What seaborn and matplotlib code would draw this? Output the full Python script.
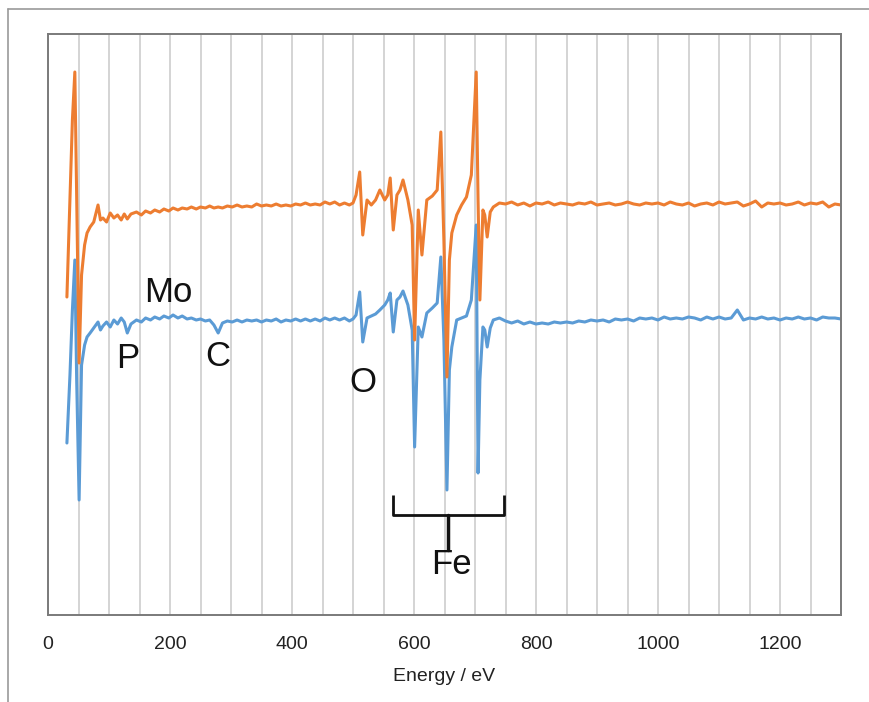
import matplotlib
matplotlib.use("Agg")
import pandas as pd
import matplotlib.pyplot as plt
import seaborn as sns

# Energy grid (eV) shared by both spectra
energy = [31, 36, 40, 44, 47, 51, 55, 60, 64, 69, 75, 82, 86, 90, 96, 102, 108, 114, 120, 125, 130,
          136, 145, 153, 160, 168, 175, 183, 190, 198, 205, 213, 220, 228, 235, 243, 250, 258, 265, 272, 279,
          286, 294, 302, 310, 318, 326, 334, 342, 350, 358, 366, 374, 382, 390, 398, 406, 414, 422, 430,
          438, 446, 454, 462, 470, 478, 486, 494, 500,
          505, 511, 516, 523, 530, 537, 544, 552, 557, 561, 566, 572, 577, 582, 590, 597, 601, 607, 613, 621,
          630, 638, 644, 649, 654, 658, 662, 670, 678, 686, 694, 702, 705, 708, 713, 716, 720, 725, 730, 740,
          750, 760, 770, 780, 790, 800, 810, 820, 830, 840, 850, 860, 870, 880, 890, 900, 910, 920, 930, 940,
          950, 960, 970, 980, 990, 1000, 1010, 1020, 1030, 1040, 1050, 1060, 1070, 1080, 1090, 1100, 1110,
          1120, 1130, 1140, 1150, 1160, 1170, 1180, 1190, 1200, 1210, 1220, 1230, 1240, 1250, 1260, 1270,
          1280, 1290, 1300]

# Upper (orange) spectrum, arbitrary units
orange_counts = [318, 415, 495, 543, 415, 252, 340, 370, 382, 388, 393, 410, 395, 397, 393, 402, 397, 400, 395, 401, 396,
                 401, 403, 400, 404, 402, 405, 403, 406, 404, 407, 405, 407, 406, 408, 406, 408, 407, 409, 407, 408,
                 407, 409, 408, 410, 408, 409, 408, 411, 409, 410, 409, 411, 409, 410, 409, 411, 410, 412, 410,
                 411, 410, 413, 411, 413, 410, 412, 410, 412,
                 420, 443, 380, 415, 410, 415, 425, 415, 420, 437, 385, 420, 425, 435, 415, 390, 275, 405, 360, 415,
                 419, 425, 483, 375, 238, 355, 382, 400, 410, 418, 440, 543, 415, 315, 405, 400, 378, 403, 408, 412,
                 411, 413, 410, 412, 409, 412, 411, 413, 410, 412, 411, 410, 412, 411, 413, 410, 411, 412, 410, 411,
                 413, 411, 410, 412, 411, 412, 410, 413, 411, 410, 412, 409, 411, 412, 410, 413, 411,
                 412, 413, 409, 411, 414, 408, 412, 411, 412, 410, 411, 413, 410, 412, 411, 413,
                 408, 411, 410]

# Lower (blue) spectrum, arbitrary units
blue_counts = [172, 240, 305, 355, 235, 115, 250, 270, 278, 282, 287, 293, 285, 289, 293, 288, 295, 291, 297, 293, 282,
               291, 295, 293, 297, 295, 298, 296, 299, 297, 300, 297, 299, 296, 297, 295, 296, 294, 295, 290, 282,
               292, 294, 293, 295, 293, 295, 294, 295, 293, 295, 294, 296, 293, 295, 294, 296, 294, 296, 294,
               296, 294, 297, 295, 297, 295, 297, 294, 296,
               300, 323, 273, 297, 299, 301, 305, 310, 315, 322, 283, 315, 318, 324, 310, 285, 168, 288, 278, 302,
               307, 312, 358, 275, 125, 245, 268, 295, 297, 299, 315, 390, 142, 235, 288, 285, 268, 287, 295, 297,
               294, 292, 294, 291, 293, 291, 292, 291, 293, 292, 293, 292, 294, 293, 295, 294, 295, 293, 296, 295,
               296, 294, 297, 296, 297, 295, 298, 296, 297, 296, 298, 297, 295, 298, 296, 298, 296,
               297, 305, 295, 297, 296, 298, 296, 297, 295, 297, 296, 298, 296, 297, 295, 298,
               297, 297, 296]

x_ticks = [0, 200, 400, 600, 800, 1000, 1200]
peak_labels = ["Mo", "P", "C", "O", "Fe"]
label_pos = [(197, 322), (130, 256), (279, 258), (516, 233), (662, 50)]

df = pd.DataFrame({
    "energy": energy + energy,
    "intensity": blue_counts + orange_counts,
    "sample": ["blue"] * len(energy) + ["orange"] * len(energy),
})

sns.set_style("white")
plt.rcParams["font.family"] = ["Liberation Sans", "DejaVu Sans"]

fig = plt.figure(figsize=(8.69, 7.02), dpi=100)
ax = fig.add_axes([48 / 869, 1 - 615 / 702, 793 / 869, 581 / 702])

sns.lineplot(data=df, x="energy", y="intensity", hue="sample",
             palette={"blue": "#5B9BD5", "orange": "#ED7D31"},
             linewidth=2.2, legend=False, estimator=None, sort=False, ax=ax)

ax.set_xlim(0, 1300)
ax.set_ylim(0, 581)
ax.set_xticks(x_ticks)
ax.set_xticks(range(0, 1301, 50), minor=True)
ax.set_yticks([])
ax.tick_params(axis="x", which="both", length=0, labelsize=14, pad=15, colors="#222222")
ax.grid(True, axis="x", which="both", color="#d4d4d4", linewidth=1.4)
ax.set_axisbelow(True)
for s in ax.spines.values():
    s.set_visible(True)
    s.set_color("#7a7a7a")
    s.set_linewidth(1.4)
ax.set_xlabel("Energy / eV", fontsize=14, color="#222222", labelpad=11)
ax.set_ylabel("")

# element labels
for txt, (ex, ey) in zip(peak_labels, label_pos):
    ax.text(ex, ey, txt, fontsize=25, ha="center", va="center", color="#111111")

# Fe bracket
ax.plot([566, 566, 747, 747], [120, 100, 100, 120], color="#111111", lw=2, solid_capstyle="butt")
ax.plot([656, 656], [100, 65], color="#111111", lw=2.5)

# outer frame of the figure (top and left visible)
fig.add_artist(plt.Line2D([8 / 869, 8 / 869], [0, 1 - 9 / 702], color="#9a9a9a", lw=1.2))
fig.add_artist(plt.Line2D([8 / 869, 1], [1 - 9 / 702, 1 - 9 / 702], color="#9a9a9a", lw=1.2))

fig.savefig("out.png", dpi=100)
